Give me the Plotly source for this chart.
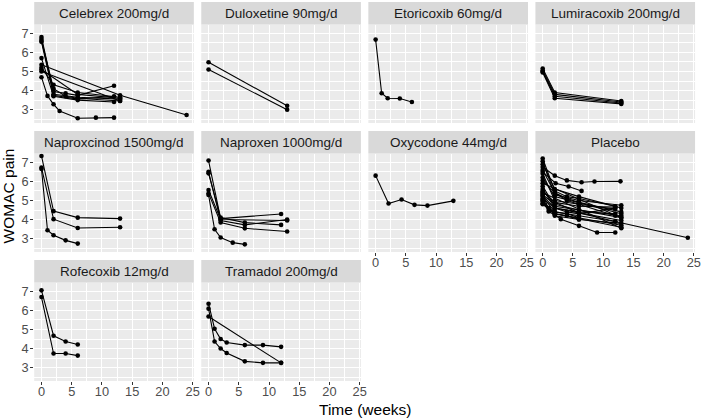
import plotly.graph_objects as go

panel_titles = ["Celebrex 200mg/d", "Duloxetine 90mg/d", "Etoricoxib 60mg/d", "Lumiracoxib 200mg/d",
                "Naproxcinod 1500mg/d", "Naproxen 1000mg/d", "Oxycodone 44mg/d", "Placebo",
                "Rofecoxib 12mg/d", "Tramadol 200mg/d"]

celebrex_weeks = [[0, 1, 2, 3, 6, 9, 12], [0, 2, 4, 6, 12], [0, 2, 6, 13], [0, 2, 4, 6, 13], [0, 13, 24],
                  [0, 2, 6, 13], [0, 13], [0, 2, 6, 12], [0, 6, 13], [0, 2, 6, 12]]
celebrex_pain = [[4.7, 3.72, 3.28, 2.93, 2.55, 2.58, 2.58], [6.8, 3.95, 3.85, 3.75, 4.25], [6.7, 3.8, 3.65, 3.55],
                 [6.6, 4.1, 3.7, 3.6, 3.45], [5.35, 3.75, 2.72], [5.2, 4.3, 3.9, 3.65], [5.0, 3.45],
                 [5.7, 3.7, 3.5, 3.4], [5.1, 3.8, 3.6], [6.55, 3.75, 3.55, 3.7]]

duloxetine_weeks = [[0, 13], [0, 13]]
duloxetine_pain = [[5.48, 3.2], [5.1, 3.0]]

etoricoxib_weeks = [[0, 1, 2, 4, 6]]
etoricoxib_pain = [[6.67, 3.86, 3.6, 3.58, 3.4]]

lumiracoxib_weeks = [[0, 2, 13], [0, 2, 13], [0, 2, 13], [0, 2, 13]]
lumiracoxib_pain = [[5.15, 3.9, 3.45], [5.05, 3.8, 3.4], [5.0, 3.7, 3.35], [4.95, 3.6, 3.3]]

naproxcinod_weeks = [[0, 2, 6, 13], [0, 2, 6, 13], [0, 1, 2, 4, 6]]
naproxcinod_pain = [[7.33, 4.44, 4.1, 4.05], [6.72, 4.02, 3.56, 3.6], [6.65, 3.44, 3.18, 2.91, 2.74]]

naproxen_weeks = [[0, 2, 12], [0, 2, 6, 13], [0, 2, 6, 12], [0, 2, 6, 13], [0, 1, 2, 4, 6], [0, 2, 13]]
naproxen_pain = [[7.09, 4.05, 4.29], [6.5, 3.95, 3.72, 4.0], [6.42, 4.1, 3.84, 3.72], [5.37, 3.85, 3.54, 3.37],
                 [5.29, 3.49, 3.06, 2.79, 2.7], [5.55, 4.0, 3.95]]

oxycodone_weeks = [[0, 2.14, 4.29, 6.43, 8.57, 12.86]]
oxycodone_pain = [[6.3, 4.84, 5.05, 4.77, 4.73, 4.98]]

placebo_weeks = [[0, 2, 4, 6.43, 8.57, 12.86], [0, 1, 2, 3, 6, 9, 12], [0, 2, 6, 12, 24], [0, 2, 4, 6, 12],
                 [0, 2, 6, 13], [0, 2, 6, 13], [0, 2, 4, 6, 13], [0, 2, 6, 12], [0, 2, 13], [0, 13],
                 [0, 2, 6, 13], [0, 2, 6, 12], [0, 1, 2, 4, 6], [0, 2, 6, 13], [0, 2, 6, 12], [0, 2, 4, 6, 12],
                 [0, 2, 6, 13], [0, 2, 13], [0, 1, 2, 4, 6], [0, 2, 6, 12], [0, 2, 6, 13], [0, 2, 4, 6, 12],
                 [0, 2, 13], [0, 13], [0, 2.14, 4.29, 6.43]]
placebo_pain = [[6.75, 6.3, 6.05, 5.95, 5.99, 6.0], [5.0, 4.42, 4.24, 4.02, 3.67, 3.32, 3.32],
                [5.45, 4.9, 4.35, 3.9, 3.05], [7.2, 5.5, 5.2, 5.1, 4.7], [7.05, 5.3, 5.0, 4.75],
                [6.9, 5.6, 5.2, 4.6], [6.6, 5.4, 5.1, 4.9, 4.4], [6.4, 5.0, 4.8, 4.55], [6.2, 5.2, 4.3],
                [5.9, 4.1], [5.75, 4.7, 4.5, 4.2], [5.6, 4.6, 4.4, 4.3], [5.35, 4.5, 4.3, 4.2, 4.0],
                [5.3, 4.8, 4.5, 4.1], [5.2, 4.4, 4.2, 3.9], [5.1, 4.6, 4.4, 4.3, 4.6], [5.05, 4.2, 4.0, 3.8],
                [4.95, 4.3, 3.7], [4.85, 4.6, 4.4, 4.3, 4.1], [5.5, 4.9, 4.7, 4.65], [5.25, 4.6, 4.35, 3.95],
                [6.05, 5.4, 5.0, 4.8, 4.2], [4.8, 4.3, 3.6], [5.4, 3.55], [6.5, 5.9, 5.73, 5.5]]

rofecoxib_weeks = [[0, 2, 4, 6], [0, 2, 4, 6]]
rofecoxib_pain = [[7.05, 4.67, 4.37, 4.21], [6.7, 3.74, 3.74, 3.63]]

tramadol_weeks = [[0, 1, 2, 3, 6, 9, 12], [0, 1, 2, 3, 6, 9, 12], [0, 12]]
tramadol_pain = [[6.35, 5.04, 4.5, 4.32, 4.18, 4.18, 4.09], [6.09, 4.37, 4.0, 3.77, 3.33, 3.25, 3.25],
                 [5.68, 3.25]]

x_ticks = [0, 5, 10, 15, 20, 25]
y_ticks = [3, 4, 5, 6, 7]

all_weeks = [celebrex_weeks, duloxetine_weeks, etoricoxib_weeks, lumiracoxib_weeks, naproxcinod_weeks,
             naproxen_weeks, oxycodone_weeks, placebo_weeks, rofecoxib_weeks, tramadol_weeks]
all_pain = [celebrex_pain, duloxetine_pain, etoricoxib_pain, lumiracoxib_pain, naproxcinod_pain,
            naproxen_pain, oxycodone_pain, placebo_pain, rofecoxib_pain, tramadol_pain]

W, H = 709, 419
col_px = [(34.5, 195.5), (203, 364), (371.5, 532.5), (540, 701)]
row_px = [(24.5, 123), (153.5, 252), (282.5, 381)]
strip_h = 22.5
FONT = "Liberation Sans, Arial, sans-serif"

fig = go.Figure()
shapes = []
annotations = []
layout_axes = {}

for i, (title, weeks, pain) in enumerate(zip(panel_titles, all_weeks, all_pain)):
    r, c = divmod(i, 4)
    suf = "" if i == 0 else str(i + 1)
    for w, p in zip(weeks, pain):
        fig.add_trace(go.Scatter(
            x=w, y=p, mode="lines+markers",
            line=dict(color="black", width=1.1),
            marker=dict(color="black", size=4.6),
            xaxis="x" + suf, yaxis="y" + suf,
            showlegend=False, hoverinfo="skip"))
    x0, x1 = col_px[c]
    y0, y1 = row_px[r]
    show_x = (r == 2) or (r == 1 and c >= 2)
    show_y = (c == 0)
    layout_axes["xaxis" + suf] = dict(
        domain=[x0 / W, x1 / W], range=[-1.2, 25.2], anchor="y" + suf,
        tickmode="array", tickvals=x_ticks, showticklabels=show_x,
        ticks="outside" if show_x else "", ticklen=3, tickwidth=1, tickcolor="#333333",
        ticklabelstandoff=-4,
        tickfont=dict(family=FONT, size=12.8, color="#4D4D4D"),
        showgrid=True, gridcolor="white", gridwidth=1.1, zeroline=False, showline=False,
        minor=dict(dtick=2.5, tick0=0, showgrid=True, gridcolor="white", gridwidth=0.55),
        fixedrange=True)
    layout_axes["yaxis" + suf] = dict(
        domain=[1 - y1 / H, 1 - y0 / H], range=[2.3, 7.46], anchor="x" + suf,
        tickmode="array", tickvals=y_ticks, showticklabels=show_y,
        ticks="outside" if show_y else "", ticklen=3, tickwidth=1, tickcolor="#333333",
        ticklabelstandoff=-1,
        tickfont=dict(family=FONT, size=12.8, color="#4D4D4D"),
        showgrid=True, gridcolor="white", gridwidth=1.1, zeroline=False, showline=False,
        minor=dict(dtick=0.5, tick0=0, showgrid=True, gridcolor="white", gridwidth=0.55),
        fixedrange=True)
    shapes.append(dict(type="rect", xref="paper", yref="paper",
                       x0=x0 / W, x1=x1 / W, y0=1 - y0 / H, y1=1 - (y0 - strip_h) / H,
                       fillcolor="#D9D9D9", line=dict(width=0), layer="below"))
    annotations.append(dict(text=title, xref="paper", yref="paper",
                            x=(x0 + x1) / 2 / W, y=1 - (y0 - strip_h / 2) / H,
                            xanchor="center", yanchor="middle", showarrow=False,
                            font=dict(family=FONT, size=13.5, color="#1A1A1A")))

annotations.append(dict(text="Time (weeks)", xref="paper", yref="paper",
                        x=368 / W, y=1 - 409 / H, xanchor="center", yanchor="middle",
                        showarrow=False, font=dict(family=FONT, size=15.5, color="black")))
annotations.append(dict(text="WOMAC pain", xref="paper", yref="paper",
                        x=9.5 / W, y=1 - 196 / H, xanchor="center", yanchor="middle", textangle=-90,
                        showarrow=False, font=dict(family=FONT, size=15.5, color="black")))

fig.update_layout(
    width=W, height=H, margin=dict(l=0, r=0, t=0, b=0),
    paper_bgcolor="white", plot_bgcolor="#EBEBEB",
    shapes=shapes, annotations=annotations, showlegend=False,
    **layout_axes)

fig.write_html("out.html", config={"displayModeBar": False},
               post_script="document.body.style.margin='0px';document.body.style.overflow='hidden';")
